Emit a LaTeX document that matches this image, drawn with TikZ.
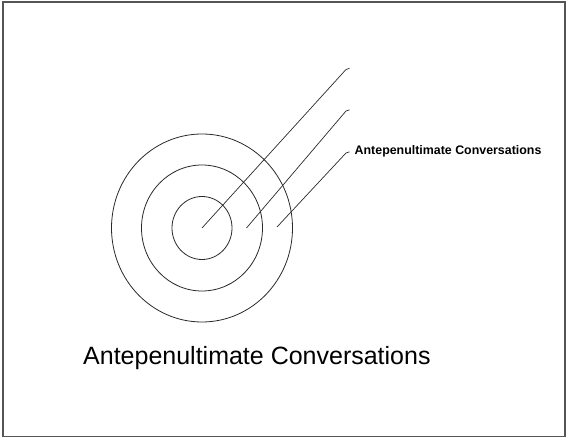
\documentclass[tikz,border=0pt]{standalone}
\usepackage{fontspec}
\setmainfont{Liberation Sans}
\usetikzlibrary{positioning,shapes.geometric}
\definecolor{Trazo}{HTML}{2A2A2A}
\definecolor{Marco}{HTML}{555555}

\begin{document}
\begin{tikzpicture}[
  x=1pt,y=-1pt,
  anillo/.style={ellipse,draw=Trazo,line width=0.8pt,inner sep=0pt},
  guia/.style={draw=Trazo,line width=0.7pt},
  rotulo/.style={font=\bfseries\fontsize{12.4}{14}\selectfont,inner sep=0pt,anchor=west}
]
  \useasboundingbox (0,0) rectangle (566,438);
  \draw[Marco,line width=1.6pt] (3,2) rectangle (565,436.5);

  % Anillos concentricos alrededor del centro.
  \coordinate (centro) at (202,228);
  \node[anillo,minimum width=60pt,minimum height=63pt] (anilloA) at (centro) {};
  \node[anillo,minimum width=121pt,minimum height=126pt] (anilloB) at (centro) {};
  \node[anillo,minimum width=181pt,minimum height=188pt] (anilloC) at (centro) {};

  % Lineas guia con su pequeno remate horizontal.
  \coordinate (pieB) at (246.5,228);
  \coordinate (pieC) at (277,227);
  \coordinate (codoA) at (346,69.5);
  \coordinate (codoB) at (346,111);
  \coordinate (codoC) at (346,153);
  \draw[guia] (centro) -- (codoA) -- ++(3.5,-1.2) coordinate (finA);
  \draw[guia] (pieB) -- (codoB) -- ++(3.5,-1.2) coordinate (finB);
  \draw[guia] (pieC) -- (codoC) -- ++(3.5,-1.2) coordinate (finC);
  \node[rotulo,right=5pt of finC,yshift=0.5pt] (etiqueta) {Antepenultimate Conversations};

  \node[font=\fontsize{25}{30}\selectfont,inner sep=0pt,anchor=base west] (titulo) at (83,365)
    {Antepenultimate Conversations};
\end{tikzpicture}
\end{document}
